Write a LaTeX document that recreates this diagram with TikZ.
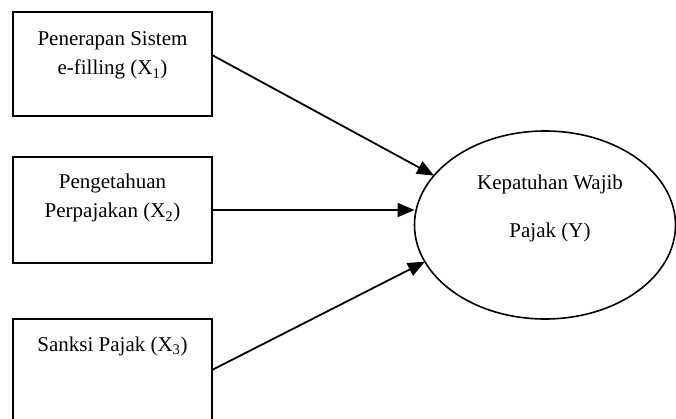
\documentclass[tikz,border=0pt]{standalone}
\usepackage{fontspec}
\setmainfont{Liberation Serif}
\usetikzlibrary{arrows.meta,calc,shapes.geometric}
\begin{document}
\begin{tikzpicture}[x=1pt,y=-1pt,
  varbox/.style={draw,line width=2pt,rectangle,minimum width=199pt,inner sep=0pt,outer sep=0pt},
  ybox/.style={draw,line width=1.6pt,ellipse,minimum width=261pt,minimum height=188pt,inner sep=0pt,outer sep=0pt},
  lbl/.style={align=center,font=\fontsize{21}{29}\selectfont,inner sep=0pt,anchor=base},
  conn/.style={line width=1.8pt,-{Triangle[length=17pt,width=14pt]}}]
\useasboundingbox (0,0) rectangle (676,419);
\clip (0,0) rectangle (676,419);
\node[varbox,minimum height=104pt] (b1) at (112.5,64) {};
\node[varbox,minimum height=106pt] (b2) at (112.5,210) {};
\node[varbox,minimum height=110pt] (b3) at (112.5,374) {};
\node[ybox] (Y) at (545,225) {};
\node[lbl] (t1) at (112.5,75) {Penerapan Sistem\\e-filling (X\textsubscript{1})};
\node[lbl] (t2) at (112.5,218) {Pengetahuan\\Perpajakan (X\textsubscript{2})};
\node[lbl] (t3) at (112.5,351) {Sanksi Pajak (X\textsubscript{3})};
\node[lbl,font=\fontsize{21}{48}\selectfont] (ty) at (550,238) {Kepatuhan Wajib\\Pajak (Y)};
\coordinate (s1) at ($(b1.north east)+(0,43)$);
\coordinate (s3) at ($(b3.north east)+(0,51)$);
\draw[conn] (s1) -- (Y.156);
\draw[conn] (b2.east) -- (b2.east -| Y.west);
\draw[conn] (s3) -- (Y.197);
\end{tikzpicture}
\end{document}
